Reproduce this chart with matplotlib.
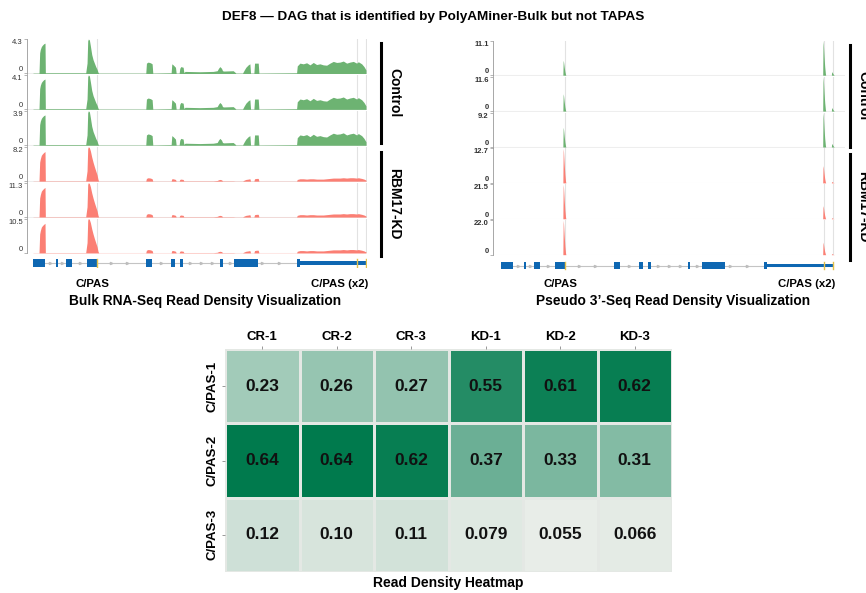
import matplotlib
matplotlib.use("Agg")
import matplotlib.pyplot as plt
import numpy as np
from matplotlib.colors import LinearSegmentedColormap

plt.rcParams['font.family'] = ['Liberation Sans', 'DejaVu Sans']

# ---------------- data ----------------
title = "DEF8 \u2014 DAG that is identified by PolyAMiner-Bulk but not TAPAS"

track_groups = ["Control", "RBM17-KD"]
bulk_track_max = [4.3, 4.1, 3.9, 8.2, 11.3, 10.5]
pseudo_track_max = [11.1, 11.6, 9.2, 12.7, 21.5, 22.0]

# Bulk RNA-seq coverage (normalised to track max), genomic units
cov_pos = [100, 118, 120, 122, 125, 128, 132, 136, 137, 139, 258, 262, 264, 266, 269,
           272, 276, 280, 284, 288, 292, 295, 297, 438, 440, 445, 452, 457, 459, 514,
           516, 520, 527, 529, 538, 540, 543, 550, 552, 556, 600, 640, 652, 656, 660,
           665, 668, 672, 700, 706, 708, 728, 733, 738, 745, 750, 752, 762, 764, 770,
           775, 777, 890, 892, 900, 910, 920, 930, 940, 950, 960, 970, 980, 990, 1000,
           1010, 1020, 1030, 1040, 1050, 1060, 1070, 1075, 1085, 1092, 1098]
ctrl_cov = [0.01, 0.01, 0.6, 0.7, 0.78, 0.82, 0.86, 0.88, 0.02, 0.02, 0.02, 0.3, 0.95, 1.0, 0.97,
            0.8, 0.55, 0.4, 0.3, 0.2, 0.12, 0.03, 0.01, 0.01, 0.3, 0.33, 0.31, 0.28, 0.01, 0.02,
            0.28, 0.25, 0.18, 0.01, 0.01, 0.15, 0.2, 0.18, 0.03, 0.06, 0.05, 0.06, 0.08, 0.15, 0.2,
            0.15, 0.08, 0.07, 0.08, 0.03, 0.01, 0.01, 0.1, 0.18, 0.25, 0.28, 0.01, 0.01, 0.3, 0.3,
            0.3, 0.01, 0.02, 0.22, 0.3, 0.28, 0.31, 0.25, 0.32, 0.26, 0.28, 0.25, 0.24, 0.3, 0.35,
            0.32, 0.33, 0.36, 0.3, 0.33, 0.35, 0.3, 0.34, 0.28, 0.2, 0.1]
kd_cov = [0.005, 0.005, 0.55, 0.65, 0.75, 0.79, 0.83, 0.86, 0.01, 0.01, 0.01, 0.3, 0.95, 1.0, 0.97,
          0.88, 0.7, 0.55, 0.42, 0.3, 0.18, 0.04, 0.005, 0.005, 0.08, 0.1, 0.09, 0.07, 0.005, 0.005,
          0.07, 0.07, 0.05, 0.005, 0.005, 0.05, 0.06, 0.05, 0.01, 0.01, 0.01, 0.01, 0.02, 0.04, 0.05,
          0.04, 0.01, 0.01, 0.01, 0.005, 0.005, 0.005, 0.03, 0.05, 0.06, 0.07, 0.005, 0.005, 0.07, 0.08,
          0.08, 0.005, 0.005, 0.05, 0.07, 0.07, 0.06, 0.07, 0.07, 0.06, 0.06, 0.06, 0.07, 0.08, 0.09,
          0.09, 0.09, 0.1, 0.09, 0.1, 0.1, 0.09, 0.1, 0.08, 0.06, 0.03]

# Pseudo 3'-seq: spike shape around each PAS site, and relative peak heights per track
pas_sites = [287, 1068, 1094]
spike_offset = [-1, 0, 1, 3, 5, 7, 8]
spike_shape = [0.0, 1.0, 0.9, 0.55, 0.25, 0.05, 0.0]
pas_heights = [
    [0.43, 1.0, 0.10],
    [0.50, 1.0, 0.10],
    [0.57, 1.0, 0.10],
    [1.0, 0.50, 0.04],
    [1.0, 0.38, 0.03],
    [1.0, 0.36, 0.03],
]
cpas_lines = [291, 1070, 1097]

# gene model
exons = [(100, 137), (168, 175), (200, 218), (263, 293), (440, 457), (515, 527),
         (541, 551), (661, 668), (703, 773), (892, 900)]
utr = (900, 1098)
intron_arrows = [152, 188, 240, 335, 383, 485, 572, 604, 637, 690, 787, 838]
pas_marks = [293, 1070, 1098]

# heatmap
hm_cols = ["CR-1", "CR-2", "CR-3", "KD-1", "KD-2", "KD-3"]
hm_rows = ["C/PAS-1", "C/PAS-2", "C/PAS-3"]
hm_vals = [
    [0.23, 0.26, 0.27, 0.55, 0.61, 0.62],
    [0.64, 0.64, 0.62, 0.37, 0.33, 0.31],
    [0.12, 0.10, 0.11, 0.079, 0.055, 0.066],
]

# ---------------- styling ----------------
W, H = 866, 593
GREEN = '#6db372'
RED = '#fb7f74'
BLUE = '#0e67b2'

fig = plt.figure(figsize=(W / 100, H / 100), dpi=100)


def ax_px(x0, y0, x1, y1):
    return fig.add_axes([x0 / W, 1 - y1 / H, (x1 - x0) / W, (y1 - y0) / H])


fig.text(433 / W, 1 - 17 / H, title, ha='center', va='center', fontsize=9.7, fontweight='bold')


def draw_gene(ax, xlim):
    ax.set_xlim(*xlim)
    ax.set_ylim(-1, 1)
    ax.axis('off')
    ax.plot([exons[0][0], utr[1]], [0, 0], color='#c4c4c4', lw=0.8, zorder=1)
    ax.plot(intron_arrows, [0] * len(intron_arrows), linestyle='none', marker='>',
            markersize=1.6, color='#bdbdbd', zorder=1)
    for s, e in exons:
        ax.fill_between([s, e], -0.75, 0.75, color=BLUE, lw=0, zorder=2)
    ax.fill_between([utr[0], utr[1]], -0.38, 0.38, color=BLUE, lw=0, zorder=2)
    for p in pas_marks:
        ax.plot([p, p], [-0.75, 0.75], color='#e3c04a', lw=1.0, zorder=3)


def style_track(ax, ymax, xlim, lab_bold=False):
    ax.set_xlim(*xlim)
    ax.set_ylim(-0.015 * ymax, ymax)
    for s in ['top', 'right', 'bottom']:
        ax.spines[s].set_visible(False)
    ax.spines['left'].set_color('#999999')
    ax.spines['left'].set_linewidth(0.6)
    ax.set_xticks([])
    ax.set_yticks([0, ymax])
    ax.set_yticklabels(['0', f"{ymax:.1f}"], fontsize=5.5,
                       fontweight='bold' if lab_bold else 'normal', color='#333333')
    labs = ax.get_yticklabels()
    labs[0].set_va('bottom')
    labs[1].set_va('top')
    ax.tick_params(axis='y', length=2, width=0.5, color='#999999', pad=1)
    ax.patch.set_alpha(0)
    ax.axhline(0, color='#eeeeee', lw=0.8, zorder=0)
    for c in cpas_lines:
        ax.axvline(c, color='#e2e2e2', lw=0.8, zorder=0)


# ---------- Left: bulk RNA-seq ----------
L_xlim = (82, 1101)
for i in range(6):
    base = 74 + 35.9 * i
    ax = ax_px(27, base - 35, 367, base)
    style_track(ax, bulk_track_max[i], L_xlim)
    prof = ctrl_cov if i < 3 else kd_cov
    y = np.array(prof) * bulk_track_max[i]
    ax.fill_between(cov_pos, 0, y, color=GREEN if i < 3 else RED, lw=0, zorder=2)

axg = ax_px(27, 258, 367, 268)
draw_gene(axg, L_xlim)

fig.text(93 / W, 1 - 284 / H, "C/PAS", ha='center', va='center', fontsize=8.2, fontweight='bold')
fig.text(340 / W, 1 - 284 / H, "C/PAS (x2)", ha='center', va='center', fontsize=8.2, fontweight='bold')
fig.text(205 / W, 1 - 301 / H, "Bulk RNA-Seq Read Density Visualization", ha='center', va='center',
         fontsize=9.9, fontweight='bold')

# group bars left
for (y0, y1, lab) in [(43, 143, track_groups[0]), (152, 256, track_groups[1])]:
    fig.add_artist(plt.Line2D([381 / W, 381 / W], [1 - y0 / H, 1 - y1 / H], color='black', lw=2.2))
    fig.text(394 / W, 1 - (y0 + y1) / 2 / H, lab, rotation=-90, ha='center', va='center',
             fontsize=10, fontweight='bold')

# ---------- Right: pseudo 3'-seq ----------
R_xlim = (76, 1134)
for i in range(6):
    base = 75.7 + 35.9 * i
    ax = ax_px(493, base - 35, 845, base)
    style_track(ax, pseudo_track_max[i], R_xlim, lab_bold=True)
    col = GREEN if i < 3 else RED
    for site, h in zip(pas_sites, pas_heights[i]):
        xs = [site + o for o in spike_offset]
        ys = [v * h * pseudo_track_max[i] for v in spike_shape]
        ax.fill_between(xs, 0, ys, color=col, lw=0, zorder=2)

axg2 = ax_px(493, 260.5, 845, 270.5)
draw_gene(axg2, R_xlim)

fig.text(560 / W, 1 - 284 / H, "C/PAS", ha='center', va='center', fontsize=8.2, fontweight='bold')
fig.text(807 / W, 1 - 284 / H, "C/PAS (x2)", ha='center', va='center', fontsize=8.2, fontweight='bold')
fig.text(673 / W, 1 - 301 / H, "Pseudo 3\u2019-Seq Read Density Visualization", ha='center', va='center',
         fontsize=9.9, fontweight='bold')

for (y0, y1, lab) in [(45, 147, track_groups[0]), (154, 260, track_groups[1])]:
    fig.add_artist(plt.Line2D([850 / W, 850 / W], [1 - y0 / H, 1 - y1 / H], color='black', lw=2.2))
    fig.text(863 / W, 1 - (y0 + y1) / 2 / H, lab, rotation=-90, ha='center', va='center',
             fontsize=10, fontweight='bold')

# ---------- Heatmap ----------
cmap = LinearSegmentedColormap.from_list('g', ['#eaeee9', '#007a4d'])
axh = ax_px(225, 349, 672, 572)
data = np.array(hm_vals)
axh.pcolormesh(np.arange(len(hm_cols) + 1), np.arange(len(hm_rows) + 1), data, cmap=cmap,
               vmin=0.05, vmax=0.64, edgecolors='#e4e8e4', linewidth=0.8)
axh.set_xlim(0, len(hm_cols))
axh.set_ylim(len(hm_rows), 0)
for r in range(len(hm_rows)):
    for c in range(len(hm_cols)):
        v = hm_vals[r][c]
        s = f"{v:.2f}" if v >= 0.1 else f"{v:.3f}"
        axh.text(c + 0.5, r + 0.5, s, ha='center', va='center', fontsize=12.5,
                 fontweight='bold', color='#111111')
for s in axh.spines.values():
    s.set_visible(False)
axh.xaxis.tick_top()
axh.set_xticks(np.arange(len(hm_cols)) + 0.5)
axh.set_xticklabels(hm_cols, fontsize=9.5, fontweight='bold')
axh.set_yticks(np.arange(len(hm_rows)) + 0.5)
axh.set_yticklabels(hm_rows, fontsize=9.5, fontweight='bold', rotation=90, va='center')
axh.tick_params(length=2.5, width=0.6, color='#888888', pad=2)
fig.text(448 / W, 1 - 583 / H, "Read Density Heatmap", ha='center', va='center', fontsize=10,
         fontweight='bold')

fig.savefig('out.png', dpi=100)
